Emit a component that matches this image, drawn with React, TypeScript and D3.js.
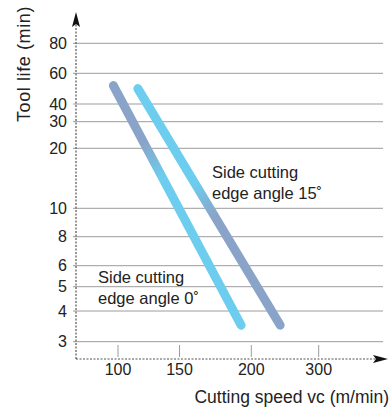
import React from "react";
import * as d3 from "d3";

// ---- data ----
const yTickValues = [3, 4, 5, 6, 8, 10, 20, 30, 40, 60, 80];
const xTickValues = [100, 150, 200, 300];
const speed0 = [97, 192];
const life0 = [51, 3.5];
const speed15 = [114, 238];
const life15 = [49, 3.5];
const label0 = ["Side cutting", "edge angle 0˚"];
const label15 = ["Side cutting", "edge angle 15˚"];

// ---- layout / style ----
const W = 390;
const H = 409;
const FONT = "'Liberation Sans', Arial, Helvetica, sans-serif";
const GREY_BLUE = "#8aa4c9";
const LIGHT_BLUE = "#6ccdee";
const AXIS_X = 76;
const AXIS_Y = 359;

// the printed axes are hand-calibrated log axes: piecewise log scales
const yRange = [341.7, 311, 286.7, 265.7, 236.7, 208.3, 148.3, 121.7, 104, 73.3, 43.3];
const xRange = [118, 179.5, 251.3, 318.7];

export default function App() {
  const y = d3.scaleLog().domain(yTickValues).range(yRange);
  const x = d3.scaleLog().domain(xTickValues).range(xRange);

  const line = d3
    .line<[number, number]>()
    .x((d) => x(d[0]))
    .y((d) => y(d[1]));

  const pts0: [number, number][] = speed0.map((s, i) => [s, life0[i]]);
  const pts15: [number, number][] = speed15.map((s, i) => [s, life15[i]]);

  return (
    <svg
      width={W}
      height={H}
      style={{ position: "absolute", left: 0, top: 0, display: "block" }}
      fontFamily={FONT}
    >
      <defs>
        <linearGradient
          id="g0"
          gradientUnits="userSpaceOnUse"
          x1={x(pts0[0][0])}
          y1={y(pts0[0][1])}
          x2={x(pts0[1][0])}
          y2={y(pts0[1][1])}
        >
          <stop offset="0" stopColor={GREY_BLUE} />
          <stop offset="0.24" stopColor={GREY_BLUE} />
          <stop offset="0.38" stopColor={LIGHT_BLUE} />
          <stop offset="1" stopColor={LIGHT_BLUE} />
        </linearGradient>
        <linearGradient
          id="g15"
          gradientUnits="userSpaceOnUse"
          x1={x(pts15[0][0])}
          y1={y(pts15[0][1])}
          x2={x(pts15[1][0])}
          y2={y(pts15[1][1])}
        >
          <stop offset="0" stopColor={LIGHT_BLUE} />
          <stop offset="0.40" stopColor={LIGHT_BLUE} />
          <stop offset="0.54" stopColor={GREY_BLUE} />
          <stop offset="1" stopColor={GREY_BLUE} />
        </linearGradient>
      </defs>

      {/* gridlines */}
      {yTickValues.map((v) => (
        <line
          key={"g" + v}
          x1={AXIS_X - 3}
          x2={383}
          y1={y(v)}
          y2={y(v)}
          stroke="#9c9c9c"
          strokeWidth={1}
        />
      ))}

      {/* x tick marks */}
      {xTickValues.map((v) => (
        <line
          key={"xt" + v}
          x1={x(v)}
          x2={x(v)}
          y1={345}
          y2={357}
          stroke="#9c9c9c"
          strokeWidth={1}
        />
      ))}

      {/* axes (dotted) */}
      <line
        x1={AXIS_X}
        x2={AXIS_X}
        y1={AXIS_Y}
        y2={22}
        stroke="#555"
        strokeWidth={1.2}
        strokeDasharray="2,1.5"
      />
      <line
        x1={AXIS_X}
        x2={379}
        y1={AXIS_Y}
        y2={AXIS_Y}
        stroke="#555"
        strokeWidth={1.2}
        strokeDasharray="2,1.5"
      />
      <path
        d={`M${AXIS_X},12 L${AXIS_X + 4},27 L${AXIS_X},24 L${AXIS_X - 4},27 Z`}
        fill="#111"
      />
      <path
        d={`M388,${AXIS_Y} L373,${AXIS_Y - 4} L376,${AXIS_Y} L373,${AXIS_Y + 4} Z`}
        fill="#111"
      />

      {/* y tick labels */}
      {yTickValues.map((v) => (
        <text
          key={"yl" + v}
          x={67}
          y={y(v)}
          dy="0.36em"
          textAnchor="end"
          fontSize={16}
          fill="#222"
        >
          {v}
        </text>
      ))}

      {/* x tick labels */}
      {xTickValues.map((v) => (
        <text
          key={"xl" + v}
          x={x(v)}
          y={375}
          textAnchor="middle"
          fontSize={16}
          fill="#222"
        >
          {v}
        </text>
      ))}

      {/* series lines */}
      <path
        d={line(pts0) || ""}
        stroke="url(#g0)"
        strokeWidth={9}
        strokeLinecap="round"
        fill="none"
      />
      <path
        d={line(pts15) || ""}
        stroke="url(#g15)"
        strokeWidth={9}
        strokeLinecap="round"
        fill="none"
      />

      {/* annotations */}
      <text x={212} y={178} fontSize={16.5} fill="#222">
        <tspan x={212}>{label15[0]}</tspan>
        <tspan x={212} dy={21}>
          {label15[1]}
        </tspan>
      </text>
      <text x={98} y={283} fontSize={16.5} fill="#222">
        <tspan x={98}>{label0[0]}</tspan>
        <tspan x={98} dy={21}>
          {label0[1]}
        </tspan>
      </text>

      {/* axis titles */}
      <text
        transform={`translate(30,64) rotate(-90)`}
        textAnchor="middle"
        fontSize={18}
        letterSpacing={0.6}
        fill="#222"
      >
        Tool life (min)
      </text>
      <text x={389} y={403} textAnchor="end" fontSize={17.5} fill="#222">
        Cutting speed vc (m/min)
      </text>
    </svg>
  );
}
